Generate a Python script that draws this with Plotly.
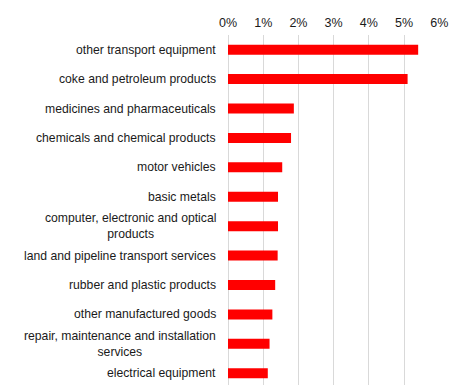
import plotly.graph_objects as go

categories = [
    "other transport equipment",
    "coke and petroleum products",
    "medicines and pharmaceuticals",
    "chemicals and chemical products",
    "motor vehicles",
    "basic metals",
    "computer, electronic and optical<br>products",
    "land and pipeline transport services",
    "rubber and plastic products",
    "other manufactured goods",
    "repair, maintenance and installation<br>services",
    "electrical equipment",
]
values = [5.40, 5.10, 1.87, 1.79, 1.54, 1.42, 1.42, 1.41, 1.34, 1.26, 1.18, 1.13]
x_ticks = [0, 1, 2, 3, 4, 5, 6]
x_tick_labels = [f"{t}%" for t in x_ticks]

FONT = "Liberation Sans, Arial, sans-serif"

fig = go.Figure(
    go.Bar(
        x=values,
        y=list(range(len(categories))),
        orientation="h",
        marker=dict(color="#ff0000", line=dict(width=0)),
        width=0.34,
        hoverinfo="x",
    )
)

for i, c in enumerate(categories):
    fig.add_annotation(
        x=0, xref="paper", y=i, yref="y",
        text=c, showarrow=False, xanchor="right", yanchor="middle",
        align="center", xshift=-10,
        font=dict(family=FONT, size=12.2, color="#1a1a1a"),
    )

fig.update_layout(
    width=460, height=385,
    margin=dict(l=228, r=20, t=35, b=0),
    paper_bgcolor="white", plot_bgcolor="white",
    showlegend=False,
    font=dict(family=FONT, size=12, color="#1a1a1a"),
    xaxis=dict(
        side="top", range=[0, 6.02], tickvals=x_ticks, ticktext=x_tick_labels,
        showgrid=True, gridcolor="#d9d9d9", gridwidth=1,
        zeroline=True, zerolinecolor="#d9d9d9", zerolinewidth=1,
        showline=False, ticks="", fixedrange=True, ticklabelstandoff=5,
        tickfont=dict(family=FONT, size=12.5, color="#1a1a1a"),
    ),
    yaxis=dict(
        range=[11.4, -0.5], showticklabels=False, showgrid=False,
        zeroline=False, showline=False, ticks="", fixedrange=True,
    ),
)

fig.write_html("out.html")
